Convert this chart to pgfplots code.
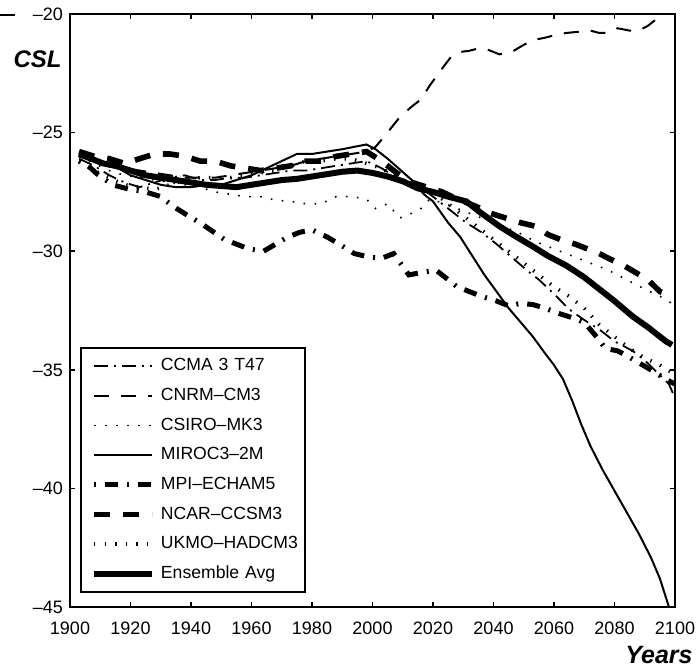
\documentclass[border=0pt]{standalone}
\usepackage{fontspec}
\setmainfont{Liberation Sans}
\usepackage{pgfplots}
\pgfplotsset{compat=1.18}

\begin{document}
\begin{tikzpicture}
\useasboundingbox (-35pt,-29.5pt) rectangle (315pt,303.5pt);
\begin{axis}[
    at={(0,0)}, anchor=south west,
    scale only axis,
    width=302.5pt, height=296.5pt,
    xmin=1900, xmax=2100,
    ymin=-45, ymax=-20,
    xtick={1900,1920,...,2100},
    ytick={-45,-40,-35,-30,-25,-20},
    yticklabels={--45,--40,--35,--30,--25,--20},
    /pgf/number format/assume math mode=true,
    /pgf/number format/1000 sep={},
    tick align=inside,
    major tick length=2.5pt,
    axis line style={line width=1pt},
    tick style={line width=0.8pt, black},
    ticklabel style={font=\fontsize{9}{10}\selectfont},
    xticklabel style={yshift=-4pt},
    legend cell align=left,
    legend style={at={(rel axis cs:0.0165,0.4385)}, anchor=north west,
        draw=black, line width=1pt, inner xsep=5pt, inner ysep=1.6pt,
        font=\fontsize{8.8}{10}\selectfont, /tikz/column sep=3pt,
        nodes={inner sep=0pt, minimum height=14.85pt, text width=67pt, align=left, anchor=west}},
    legend image code/.code={\draw[#1] (0pt,0pt) -- (29pt,0pt);},
]
% CCMA 3 T47
\addplot[black, line width=0.9pt, dash pattern=on 7pt off 3pt on 1pt off 3pt] coordinates {
(1903,-26.1) (1908,-26.4) (1913,-26.8) (1918,-27.1) (1923,-27.3) (1928,-27.1)
(1933,-26.9) (1938,-26.8) (1943,-27.0) (1948,-27.0) (1953,-26.9) (1958,-26.9)
(1963,-26.8) (1968,-26.7) (1973,-26.6) (1978,-26.6) (1983,-26.5) (1988,-26.4)
(1993,-26.3) (1998,-26.2) (2003,-26.5) (2008,-26.9) (2013,-27.3) (2018,-27.5)
(2022,-27.9) (2026,-28.3) (2031,-28.8) (2036,-29.2) (2041,-29.7) (2046,-30.25)
(2051,-30.8) (2055,-31.2) (2060,-31.8) (2065,-32.45) (2070,-32.9) (2075,-33.3)
(2080,-33.8) (2086,-34.2) (2090,-34.6) (2094,-35.1) (2098,-35.6) (2100,-36.2)
};
\addlegendentry{\mbox{CCMA 3 T47}}
% CNRM-CM3
\addplot[black, line width=1pt, dash pattern=on 7.5pt off 6pt] coordinates {
(1903,-26.0) (1908,-26.2) (1913,-26.4) (1918,-26.5) (1923,-26.6) (1928,-26.7)
(1933,-26.8) (1938,-26.9) (1943,-26.9) (1948,-26.9) (1953,-26.8) (1958,-26.7)
(1963,-26.6) (1968,-26.5) (1973,-26.4) (1978,-26.2) (1983,-26.1) (1988,-26.0)
(1993,-25.9) (1998,-25.8) (2001,-25.6) (2004,-25.15) (2009,-24.35) (2013,-23.9)
(2016,-23.6) (2019,-23.0) (2023,-22.3) (2026,-21.8) (2029,-21.6) (2032,-21.55)
(2035,-21.45) (2038,-21.5) (2042,-21.7) (2046,-21.6) (2050,-21.3) (2053,-21.1)
(2057,-21.0) (2060,-20.9) (2064,-20.8) (2068,-20.75) (2072,-20.7) (2075,-20.8)
(2078,-20.8) (2081,-20.6) (2085,-20.7) (2088,-20.7) (2091,-20.5) (2095,-20.1)
(2099,-19.9)
};
\addlegendentry{\mbox{CNRM--CM3}}
% CSIRO-MK3
\addplot[black, line width=0.8pt, dash pattern=on 0.8pt off 4.7pt] coordinates {
(1903,-26.0) (1908,-26.3) (1913,-26.6) (1918,-26.8) (1923,-26.9) (1928,-27.0)
(1933,-27.1) (1938,-27.2) (1943,-27.3) (1948,-27.5) (1953,-27.6) (1958,-27.7)
(1963,-27.7) (1968,-27.85) (1973,-27.9) (1978,-28.0) (1983,-28.0) (1988,-27.7)
(1993,-27.7) (1998,-27.8) (2001,-28.2) (2005,-28.0) (2009,-28.6) (2013,-28.4)
(2016,-28.2) (2019,-27.8) (2024,-28.0) (2030,-28.3) (2036,-28.6) (2042,-28.9)
(2048,-29.2) (2054,-29.6) (2060,-29.9) (2066,-30.2) (2072,-30.5) (2078,-30.8)
(2084,-31.2) (2090,-31.6) (2095,-31.9) (2099,-32.2)
};
\addlegendentry{\mbox{CSIRO--MK3}}
% MIROC3-2M
\addplot[black, line width=1pt] coordinates {
(1903,-25.9) (1908,-26.2) (1912,-26.4) (1916,-26.5) (1920,-26.8) (1925,-27.0)
(1930,-27.2) (1935,-27.3) (1940,-27.3) (1945,-27.2) (1950,-27.2) (1955,-27.0)
(1960,-26.8) (1965,-26.5) (1970,-26.2) (1975,-25.9) (1980,-25.9) (1985,-25.8)
(1990,-25.7) (1994,-25.6) (1998,-25.5) (2001,-25.7) (2005,-26.1) (2009,-26.55)
(2013,-27.0) (2017,-27.6) (2020,-27.9) (2025,-28.8) (2029,-29.4) (2033,-30.2)
(2037,-31.0) (2041,-31.7) (2045,-32.4) (2049,-33.0) (2053,-33.6) (2057,-34.3)
(2060,-34.8) (2063,-35.4) (2066,-36.3) (2069,-37.3) (2072,-38.2) (2076,-39.2)
(2080,-40.1) (2084,-41.0) (2088,-41.9) (2092,-42.9) (2095,-43.8) (2098,-45.0)
};
\addlegendentry{\mbox{MIROC3--2M}}
% MPI-ECHAM5
\addplot[black, line width=2.5pt, dash pattern=on 1pt off 4.5pt on 6.5pt off 4.5pt] coordinates {
(1903,-26.2) (1906,-26.4) (1909,-26.75) (1914,-27.2) (1920,-27.4) (1925,-27.5)
(1930,-27.7) (1934,-28.1) (1939,-28.5) (1943,-28.8) (1947,-29.15) (1951,-29.5)
(1955,-29.7) (1959,-29.9) (1964,-30.0) (1968,-29.7) (1972,-29.4) (1976,-29.2)
(1980,-29.1) (1985,-29.4) (1989,-29.7) (1994,-30.1) (1999,-30.25) (2003,-30.3)
(2007,-30.1) (2012,-31.0) (2016,-30.9) (2021,-30.8) (2025,-31.2) (2028,-31.5)
(2032,-31.7) (2036,-31.9) (2041,-32.1) (2045,-32.3) (2049,-32.2) (2053,-32.25)
(2057,-32.4) (2061,-32.6) (2066,-32.8) (2070,-33.0) (2074,-33.6) (2077,-34.1)
(2081,-34.2) (2084,-34.4) (2088,-34.7) (2092,-35.0) (2097,-35.4) (2100,-35.6)
};
\addlegendentry{\mbox{MPI--ECHAM5}}
% NCAR-CCSM3
\addplot[black, line width=2.8pt, dash pattern=on 8pt off 6.5pt] coordinates {
(1903,-25.8) (1908,-26.0) (1913,-26.1) (1918,-26.3) (1923,-26.1) (1928,-25.9)
(1933,-25.9) (1938,-26.0) (1943,-26.2) (1948,-26.2) (1953,-26.4) (1958,-26.5)
(1963,-26.6) (1968,-26.5) (1973,-26.4) (1978,-26.2) (1983,-26.2) (1988,-26.0)
(1993,-25.9) (1998,-25.8) (2003,-26.2) (2008,-26.7) (2013,-27.1) (2018,-27.3)
(2023,-27.5) (2028,-27.8) (2034,-28.1) (2039,-28.4) (2044,-28.6) (2049,-28.8)
(2054,-28.95) (2058,-29.3) (2062,-29.5) (2067,-29.7) (2071,-29.9) (2075,-30.1)
(2078,-30.3) (2083,-30.6) (2087,-30.9) (2091,-31.2) (2095,-31.7) (2099,-31.9)
};
\addlegendentry{\mbox{NCAR--CCSM3}}
% UKMO-HADCM3
\addplot[black, line width=1.8pt, dash pattern=on 0.7pt off 4.6pt] coordinates {
(1903,-26.2) (1908,-26.6) (1913,-26.9) (1918,-27.2) (1923,-27.3) (1928,-27.4)
(1933,-27.2) (1938,-27.0) (1943,-26.9) (1948,-26.9) (1953,-26.9) (1958,-26.8)
(1963,-26.7) (1968,-26.6) (1973,-26.4) (1978,-26.2) (1983,-26.2) (1988,-26.1)
(1993,-26.1) (1998,-26.3) (2003,-26.5) (2008,-26.9) (2013,-27.2) (2018,-27.4)
(2022,-27.7) (2026,-28.1) (2030,-28.5) (2035,-29.0) (2040,-29.5) (2045,-30.0)
(2050,-30.5) (2055,-31.0) (2060,-31.5) (2065,-31.9) (2070,-32.4) (2075,-33.1)
(2080,-33.6) (2085,-34.1) (2090,-34.5) (2095,-34.8) (2100,-35.2)
};
\addlegendentry{\mbox{UKMO--HADCM3}}
% Ensemble Avg
\addplot[black, line width=3pt] coordinates {
(1903,-25.9) (1907,-26.1) (1911,-26.3) (1915,-26.4) (1920,-26.6) (1925,-26.8)
(1930,-26.9) (1935,-27.0) (1940,-27.1) (1945,-27.2) (1950,-27.25) (1955,-27.3)
(1960,-27.2) (1965,-27.1) (1970,-27.0) (1975,-26.95) (1980,-26.85) (1985,-26.75)
(1990,-26.65) (1995,-26.6) (2000,-26.7) (2005,-26.85) (2010,-27.05) (2015,-27.35)
(2020,-27.5) (2025,-27.7) (2031,-27.9) (2036,-28.4) (2042,-28.95) (2047,-29.35)
(2053,-29.8) (2058,-30.2) (2064,-30.6) (2070,-31.1) (2075,-31.6) (2080,-32.1)
(2086,-32.75) (2091,-33.2) (2097,-33.8) (2099,-33.95)
};
\addlegendentry{\mbox{Ensemble Avg}}
\end{axis}
\node[anchor=base east, inner sep=0pt, font=\fontsize{12}{14}\selectfont\bfseries\itshape] at (-4pt,270pt) {CSL};
\node[anchor=base east, inner sep=0pt, font=\fontsize{12.5}{14}\selectfont\bfseries\itshape] at (311.5pt,-28pt) {Years};
\draw[line width=1pt] (-35pt,296pt) -- (-27.5pt,296pt);
\end{tikzpicture}
\end{document}
